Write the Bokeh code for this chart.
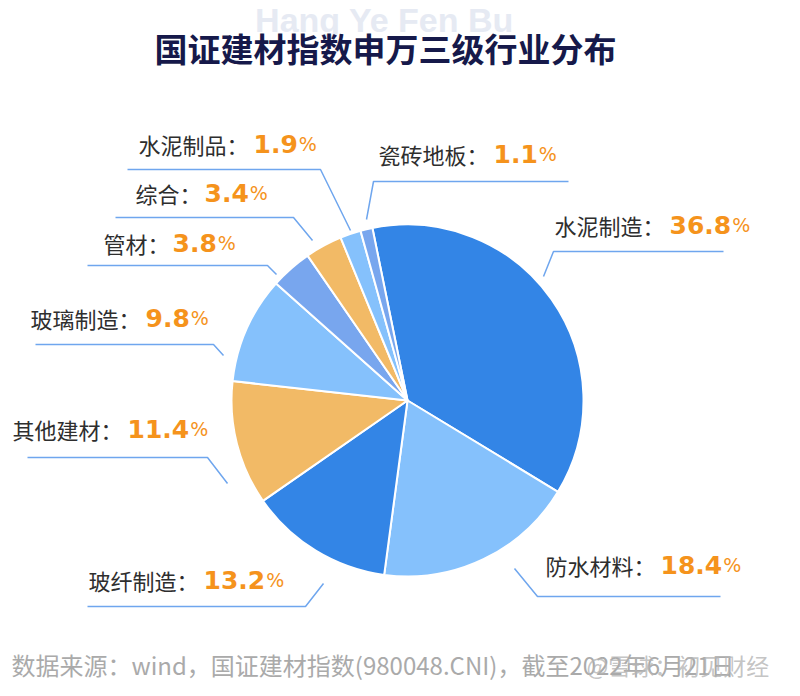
import math
from bokeh.plotting import figure
from bokeh.models import Range1d, ColumnDataSource
from bokeh.core.properties import value
from bokeh.embed import file_html
from bokeh.resources import INLINE

# ---------------- data ----------------
categories = ["水泥制造", "防水材料", "玻纤制造", "其他建材", "玻璃制造",
              "管材", "综合", "水泥制品", "瓷砖地板"]
shares = [36.8, 18.4, 13.2, 11.4, 9.8, 3.8, 3.4, 1.9, 1.1]

title_text = "国证建材指数申万三级行业分布"
watermark_top = "Hang Ye Fen Bu"
footer_text = "数据来源：wind，国证建材指数(980048.CNI)，截至2022年6月21日"
footer_mark = "@雪球：初见财经"

# ---------------- styles / layout ----------------
slice_colors = ["#3385E6", "#85C1FC", "#3385E6", "#F2BA66", "#85C1FC",
                "#78A6EE", "#F2BA66", "#85C1FC", "#78A6EE"]
W, H = 800, 696
TOP = 8                          # frame starts 8px down (clips top watermark)
def iy(y):                       # screenshot y (down) -> data y (up)
    return H - y

CX, CY, R = 407, 400, 176        # pie centre / radius in screenshot px
START_DEG = -11.5                # clockwise from 12 o'clock

# label anchor (left x, text y) and leader polyline, screenshot px
label_layout = {
    "水泥制造": (554, 224, [(543, 276), (553, 251), (723, 251)]),
    "防水材料": (545, 564, [(514, 568), (537, 596), (720, 596)]),
    "玻纤制造": (88, 579, [(323, 583), (305, 606), (87, 606)]),
    "其他建材": (12, 428, [(227, 483), (207, 457), (27, 457)]),
    "玻璃制造": (30, 317, [(223, 355), (213, 344), (35, 344)]),
    "管材": (103, 242, [(276, 274), (267, 265), (87, 265)]),
    "综合": (135, 192, [(312, 240), (293, 217), (115, 217)]),
    "水泥制品": (138, 143, [(350, 230), (320, 169), (127, 169)]),
    "瓷砖地板": (378, 153, [(366, 219), (373, 181), (568, 181)]),
}
CHAR_W = 23
NUM_FS = 25
def num_width(s):
    return sum(0.381 * NUM_FS if c == "." else 0.696 * NUM_FS for c in s)

LABEL_FONT = value("Noto Sans CJK SC")
NUM_FONT = value("DejaVu Sans")
ORANGE = "#F5931C"
LINE_BLUE = "#6FA6EE"

p = figure(width=W, height=H, output_backend="svg", toolbar_location=None,
           x_range=Range1d(0, W), y_range=Range1d(0, H - TOP),
           min_border=0, min_border_top=TOP, outline_line_color=None,
           background_fill_color="white", border_fill_color="white")
p.xaxis.visible = False
p.yaxis.visible = False
p.grid.visible = False

# ---------------- pie ----------------
total = sum(shares)
starts, ends = [], []
cum = 0.0
for v in shares:
    a0 = START_DEG + cum / total * 360.0
    a1 = START_DEG + (cum + v) / total * 360.0
    starts.append(math.radians(90 - a0))
    ends.append(math.radians(90 - a1))
    cum += v
src = ColumnDataSource(dict(start=starts, end=ends, color=slice_colors,
                            cat=categories, share=shares))
p.wedge(x=CX, y=iy(CY), radius=R, start_angle="start", end_angle="end",
        direction="clock", fill_color="color", line_color="white",
        line_width=2, source=src)

# ---------------- leader lines & labels ----------------
lx, ly, lab_x, lab_y, lab_t = [], [], [], [], []
nx, ny, nt, px_, py_ = [], [], [], [], []
for cat, v in zip(categories, shares):
    x0, yb, pts = label_layout[cat]
    lx.append([q[0] for q in pts])
    ly.append([iy(q[1]) for q in pts])
    lbl = cat + "："
    lab_x.append(x0); lab_y.append(iy(yb)); lab_t.append(lbl)
    s = f"{v:.1f}"
    xn = x0 + CHAR_W * len(lbl)
    nx.append(xn); ny.append(iy(yb)); nt.append(s)
    px_.append(xn + num_width(s) + 1); py_.append(iy(yb))

p.multi_line(xs=lx, ys=ly, line_color=LINE_BLUE, line_width=1.5)
p.text(x=lab_x, y=lab_y, text=lab_t, text_font=LABEL_FONT,
       text_font_size="22px", text_color="#2E2E2E", text_baseline="alphabetic",
       text_align="left")
p.text(x=nx, y=ny, text=nt, text_font=NUM_FONT, text_font_style="bold",
       text_font_size=f"{NUM_FS}px", text_color=ORANGE,
       text_baseline="alphabetic", text_align="left")
p.text(x=px_, y=py_, text=["%"] * len(px_), text_font=NUM_FONT,
       text_font_size="19px", text_color=ORANGE,
       text_baseline="alphabetic", text_align="left")

# ---------------- title, watermark, footer ----------------
p.text(x=[384], y=[iy(19)], text=[watermark_top], text_font=value("Liberation Sans"),
       text_font_style="bold", text_font_size="34px", text_color="#E6EAF3",
       text_align="center", text_baseline="alphabetic")
p.text(x=[385], y=[iy(47)], text=[title_text], text_font=LABEL_FONT,
       text_font_style="bold", text_font_size="33px", text_color="#16194A",
       text_align="center", text_baseline="alphabetic")
p.text(x=[11], y=[iy(664)], text=[footer_text], text_font=LABEL_FONT,
       text_font_size="24px", text_color="#AAAAAA", text_align="left",
       text_baseline="alphabetic")
p.text(x=[586], y=[iy(664)], text=[footer_mark], text_font=LABEL_FONT,
       text_font_size="23px", text_color="#B5B5B5", text_alpha=0.8,
       text_align="left", text_baseline="alphabetic")

open("out.html", "w").write(file_html(p, INLINE))
